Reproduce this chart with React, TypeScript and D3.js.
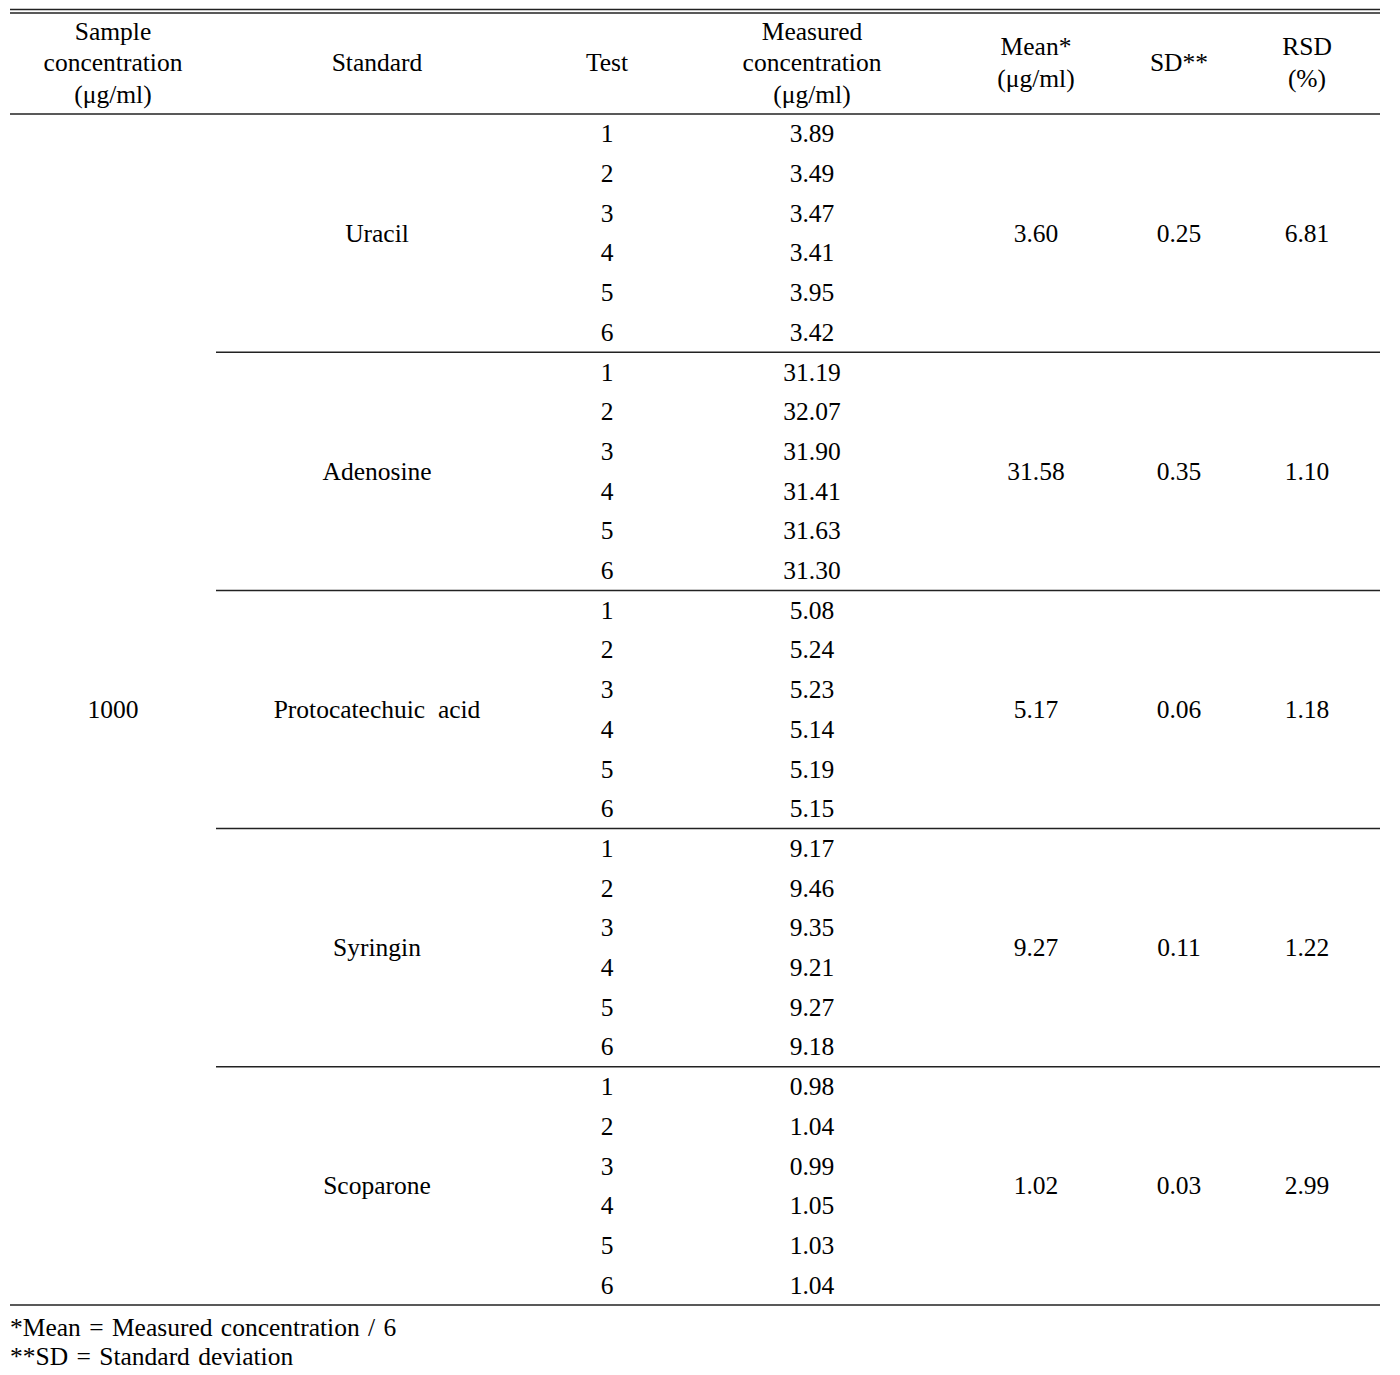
import React from "react";
import * as d3 from "d3";

const sampleConcentration = "1000";
const standards = ["Uracil", "Adenosine", "Protocatechuic  acid", "Syringin", "Scoparone"];
const tests = ["1", "2", "3", "4", "5", "6"];
const uracil = ["3.89", "3.49", "3.47", "3.41", "3.95", "3.42"];
const adenosine = ["31.19", "32.07", "31.90", "31.41", "31.63", "31.30"];
const protocatechuic = ["5.08", "5.24", "5.23", "5.14", "5.19", "5.15"];
const syringin = ["9.17", "9.46", "9.35", "9.21", "9.27", "9.18"];
const scoparone = ["0.98", "1.04", "0.99", "1.05", "1.03", "1.04"];
const means = ["3.60", "31.58", "5.17", "9.27", "1.02"];
const sds = ["0.25", "0.35", "0.06", "0.11", "0.03"];
const rsds = ["6.81", "1.10", "1.18", "1.22", "2.99"];
const measured = [uracil, adenosine, protocatechuic, syringin, scoparone];
const footnotes = ["*Mean = Measured concentration / 6", "**SD = Standard deviation"];

const W = 1400;
const H = 1375;
const FONT = "Liberation Serif, Times New Roman, serif";
const FS = 25.5;

export default function App() {
  const nRows = standards.length * tests.length;
  const y = d3.scaleLinear().domain([0, nRows]).range([114, 1305]);
  const colX = { sample: 113, standard: 377, test: 607, measured: 812, mean: 1036, sd: 1179, rsd: 1307 };
  const left = 10;
  const right = 1380;
  const lineColor = "#222";
  const txt = (x: number, yy: number, s: string, key?: string) => (
    <text key={key} x={x} y={yy} textAnchor="middle" dominantBaseline="central">{s}</text>
  );
  const groupY = (g: number) => (y(g * 6) + y(g * 6 + 6)) / 2;
  return (
    <svg width={W} height={H} style={{ position: "absolute", left: 0, top: 0, background: "#fff", fontFamily: FONT, fontSize: FS }}
      fill="#000">
      <rect width={W} height={H} fill="#fff" />
      <line x1={left} x2={right} y1={9.5} y2={9.5} stroke={lineColor} strokeWidth={1.5} />
      <line x1={left} x2={right} y1={13} y2={13} stroke={lineColor} strokeWidth={1.5} />
      <line x1={left} x2={right} y1={y(0)} y2={y(0)} stroke={lineColor} strokeWidth={1.5} />
      <line x1={left} x2={right} y1={y(nRows)} y2={y(nRows)} stroke={lineColor} strokeWidth={1.5} />
      {standards.slice(1).map((_, i) => (
        <line key={"sep" + i} x1={216} x2={right} y1={y((i + 1) * 6)} y2={y((i + 1) * 6)} stroke={lineColor} strokeWidth={1.5} />
      ))}
      <g>
        {txt(colX.sample, 31, "Sample")}
        {txt(colX.sample, 62, "concentration")}
        {txt(colX.sample, 94, "(μg/ml)")}
        {txt(colX.standard, 62, "Standard")}
        {txt(colX.test, 62, "Test")}
        {txt(colX.measured, 31, "Measured")}
        {txt(colX.measured, 62, "concentration")}
        {txt(colX.measured, 94, "(μg/ml)")}
        {txt(colX.mean, 46, "Mean*")}
        {txt(colX.mean, 78, "(μg/ml)")}
        {txt(colX.sd, 62, "SD**")}
        {txt(colX.rsd, 46, "RSD")}
        {txt(colX.rsd, 78, "(%)")}
      </g>
      {txt(colX.sample, y(nRows / 2), sampleConcentration)}
      {standards.map((s, g) => (
        <g key={s}>
          <text x={colX.standard} y={groupY(g)} textAnchor="middle" dominantBaseline="central" style={{ whiteSpace: "pre" }}>{s}</text>
          {txt(colX.mean, groupY(g), means[g])}
          {txt(colX.sd, groupY(g), sds[g])}
          {txt(colX.rsd, groupY(g), rsds[g])}
          {tests.map((t, i) => {
            const cy = (y(g * 6 + i) + y(g * 6 + i + 1)) / 2;
            return (
              <g key={t}>
                {txt(colX.test, cy, t)}
                {txt(colX.measured, cy, measured[g][i])}
              </g>
            );
          })}
        </g>
      ))}
      {footnotes.map((f, i) => (
        <text key={f} x={10} y={1327 + i * 29} dominantBaseline="central" wordSpacing={2}>{f}</text>
      ))}
    </svg>
  );
}
